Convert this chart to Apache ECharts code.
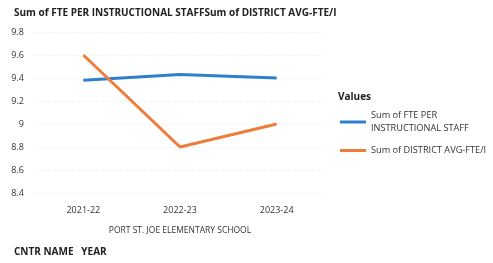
<!DOCTYPE html>
<html>
<head>
<meta charset="UTF-8">
<title>FTE chart</title>
<script src="https://cdn.jsdelivr.net/npm/echarts@6/dist/echarts.min.js"></script>
</head>
<body style="margin:0;width:493px;height:263px;background:#fff;">
<div id="main" style="width:493px;height:263px;"></div>
<script>
var years = ['2021-22', '2022-23', '2023-24'];
var fteStaff = [9.38, 9.43, 9.40];
var districtAvg = [9.6, 8.8, 9.0];
var yTicks = ['8.4', '8.6', '8.8', '9', '9.2', '9.4', '9.6', '9.8'];

var chart = echarts.init(document.getElementById('main'));
var font = 'Open Sans';

chart.setOption({
    animation: false,
    textStyle: { fontFamily: font },
    title: [
        { text: 'Sum of FTE PER INSTRUCTIONAL STAFFSum of DISTRICT AVG-FTE/I', left: 9, top: 3,
          textStyle: { fontSize: 10, fontWeight: 'bold', color: '#222', fontFamily: font } },
        { text: 'CNTR NAME   YEAR', left: 9, top: 242,
          textStyle: { fontSize: 10, fontWeight: 'bold', color: '#222', fontFamily: font } },
        { text: 'Values', left: 333, top: 87,
          textStyle: { fontSize: 10, fontWeight: 'bold', color: '#222', fontFamily: font } }
    ],
    legend: {
        orient: 'vertical',
        left: 335, top: 104,
        itemWidth: 26, itemHeight: 3, itemGap: 9,
        icon: 'rect',
        textStyle: { fontSize: 9.2, color: '#333', fontFamily: font, lineHeight: 13 },
        formatter: function (n) {
            return n === 'Sum of FTE PER INSTRUCTIONAL STAFF' ? 'Sum of FTE PER\nINSTRUCTIONAL STAFF' : n;
        },
        data: ['Sum of FTE PER INSTRUCTIONAL STAFF', 'Sum of DISTRICT AVG-FTE/I']
    },
    grid: { left: 35, right: 168, top: 32, bottom: 70 },
    xAxis: {
        type: 'category',
        data: years,
        boundaryGap: true,
        axisLine: { show: false },
        axisTick: { show: false },
        axisLabel: { fontSize: 9, color: '#333', margin: 13 },
        name: 'PORT ST. JOE ELEMENTARY SCHOOL',
        nameLocation: 'middle',
        nameGap: 33,
        nameTextStyle: { fontSize: 8.5, color: '#333' }
    },
    yAxis: {
        type: 'value',
        min: 8.4, max: 9.8, interval: 0.2,
        axisLine: { show: false },
        axisTick: { show: false },
        splitLine: { lineStyle: { color: '#f4f4f4', type: 'dashed' } },
        axisLabel: {
            fontSize: 9, color: '#333', margin: 11,
            formatter: function (v) { return yTicks[Math.round((v - 8.4) / 0.2)]; }
        }
    },
    series: [
        { name: 'Sum of FTE PER INSTRUCTIONAL STAFF', type: 'line', data: fteStaff,
          symbol: 'none', lineStyle: { width: 3, color: '#2f80cc' }, itemStyle: { color: '#2f80cc' } },
        { name: 'Sum of DISTRICT AVG-FTE/I', type: 'line', data: districtAvg,
          symbol: 'none', lineStyle: { width: 3, color: '#ee7d3b' }, itemStyle: { color: '#ee7d3b' } }
    ]
});
</script>
</body>
</html>
